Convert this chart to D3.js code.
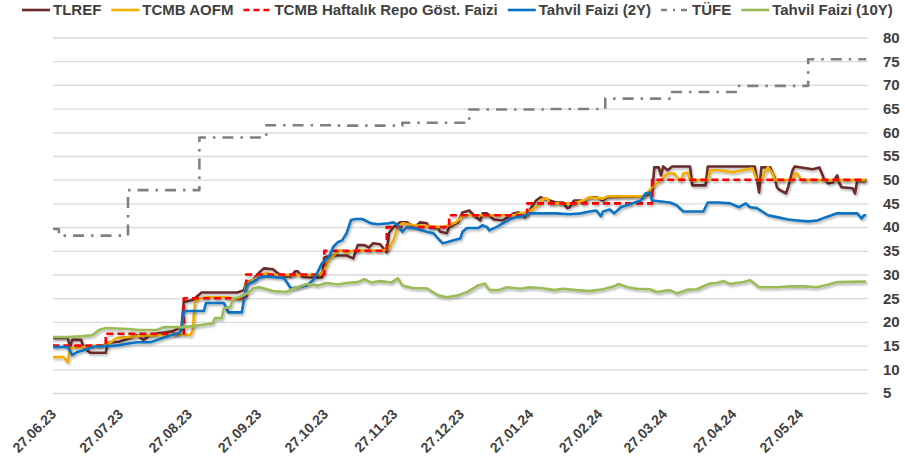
<!DOCTYPE html>
<html>
<head>
<meta charset="utf-8">
<script src="https://cdn.jsdelivr.net/npm/d3@7"></script>
<style>
	body { margin: 0; background: #ffffff; }
	text { font-family: "Liberation Sans", Arial, sans-serif; font-weight: bold; fill: #404040; }
</style>
</head>
<body>
<svg id="chart" width="905" height="462"></svg>
<script>

// ---DATA---//

var xTickLabels = [ "27.06.23", "27.07.23", "27.08.23", "27.09.23", "27.10.23", "27.11.23",
		"27.12.23", "27.01.24", "27.02.24", "27.03.24", "27.04.24", "27.05.24" ];

var yTicks = [ 5, 10, 15, 20, 25, 30, 35, 40, 45, 50, 55, 60, 65, 70, 75, 80 ];

var seriesNames = [ "TLREF", "TCMB AOFM", "TCMB Haftalık Repo Göst. Faizi",
		"Tahvil Faizi (2Y)", "TÜFE", "Tahvil Faizi (10Y)" ];

var tlrefData = [ ["2023-06-30",16.6],["2023-07-07",16.6],["2023-07-08",14.7],["2023-07-09",16.2],
	["2023-07-13",16.2],["2023-07-14",14.7],["2023-07-17",13.5],["2023-07-24",13.5],["2023-07-25",15.6],
	["2023-07-30",15.8],["2023-08-04",16.6],["2023-08-07",17.2],["2023-08-10",16.2],["2023-08-13",17.2],
	["2023-08-17",17.6],["2023-08-23",18.0],["2023-08-27",19.0],["2023-08-28",24.2],["2023-09-01",24.6],
	["2023-09-05",26.2],["2023-09-12",26.2],["2023-09-21",26.2],["2023-09-24",26.7],["2023-09-25",28.4],
	["2023-09-28",28.8],["2023-10-01",30.5],["2023-10-03",31.3],["2023-10-07",31.1],["2023-10-09",30.3],
	["2023-10-12",29.6],["2023-10-15",29.6],["2023-10-17",30.7],["2023-10-18",30.7],["2023-10-20",29.6],
	["2023-10-24",29.4],["2023-10-29",29.4],["2023-10-30",33.6],["2023-11-02",34.0],["2023-11-09",34.0],
	["2023-11-12",33.4],["2023-11-14",36.2],["2023-11-17",36.2],["2023-11-19",35.7],["2023-11-21",36.6],
	["2023-11-24",36.4],["2023-11-27",34.7],["2023-11-28",38.7],["2023-11-30",40.0],["2023-12-03",41.0],
	["2023-12-06",41.0],["2023-12-08",40.4],["2023-12-10",40.2],["2023-12-12",41.0],["2023-12-15",40.8],
	["2023-12-16",40.0],["2023-12-20",39.8],["2023-12-21",39.0],["2023-12-24",38.7],["2023-12-25",40.0],
	["2023-12-29",41.0],["2023-12-31",43.1],["2024-01-03",43.5],["2024-01-05",42.5],["2024-01-08",41.4],
	["2024-01-09",42.9],["2024-01-11",42.9],["2024-01-14",41.6],["2024-01-18",41.4],["2024-01-23",42.9],
	["2024-01-25",43.1],["2024-01-28",42.1],["2024-01-29",42.9],["2024-01-30",43.5],["2024-02-02",45.6],
	["2024-02-04",46.3],["2024-02-08",45.6],["2024-02-11",45.2],["2024-02-14",45.2],["2024-02-16",44.0],
	["2024-02-17",44.2],["2024-02-19",45.6],["2024-02-22",45.6],["2024-02-23",45.2],["2024-02-26",46.3],
	["2024-02-29",46.3],["2024-03-03",45.6],["2024-03-05",46.3],["2024-03-21",46.5],["2024-03-24",47.1],
	["2024-03-25",47.0],["2024-03-26",52.6],["2024-03-28",52.6],["2024-03-29",50.9],["2024-03-30",52.8],
	["2024-04-01",52.0],["2024-04-03",52.8],["2024-04-11",52.8],["2024-04-12",48.8],["2024-04-18",48.8],
	["2024-04-19",52.8],["2024-05-10",52.8],["2024-05-12",47.3],["2024-05-13",52.6],["2024-05-17",52.6],
	["2024-05-19",50.3],["2024-05-20",48.4],["2024-05-21",47.9],["2024-05-24",47.1],["2024-05-25",48.4],
	["2024-05-27",52.0],["2024-05-28",52.8],["2024-06-05",52.2],["2024-06-08",52.6],["2024-06-10",50.3],
	["2024-06-12",49.2],["2024-06-14",49.4],["2024-06-16",50.9],["2024-06-17",49.2],["2024-06-18",48.4],
	["2024-06-23",48.2],["2024-06-24",47.1],["2024-06-25",49.9],["2024-06-28",49.6],["2024-06-29",49.9] ];

var aofmData = [ ["2023-06-30",12.6],["2023-07-05",12.6],["2023-07-07",11.5],["2023-07-08",14.5],
	["2023-07-14",14.7],["2023-07-18",14.9],["2023-07-23",15.1],["2023-07-26",15.7],["2023-07-29",16.6],
	["2023-08-03",16.8],["2023-08-07",17.0],["2023-08-13",17.2],["2023-08-20",17.2],["2023-08-28",17.4],
	["2023-08-31",17.2],["2023-09-01",18.3],["2023-09-02",24.2],["2023-09-03",24.8],["2023-09-07",25.2],
	["2023-09-16",25.2],["2023-09-22",24.8],["2023-09-24",25.2],["2023-09-25",28.2],["2023-09-28",28.8],
	["2023-10-01",29.6],["2023-10-04",30.3],["2023-10-07",29.9],["2023-10-28",29.9],["2023-10-30",30.9],
	["2023-11-01",33.0],["2023-11-03",34.0],["2023-11-06",35.1],["2023-11-09",34.7],["2023-11-14",35.1],
	["2023-11-25",35.0],["2023-11-28",35.5],["2023-11-30",37.2],["2023-12-02",40.0],["2023-12-04",40.8],
	["2023-12-09",40.4],["2023-12-15",40.2],["2023-12-22",40.0],["2023-12-25",40.4],["2023-12-28",41.0],
	["2023-12-30",41.8],["2023-12-31",42.5],["2024-01-23",42.5],["2024-01-26",42.9],["2024-01-29",43.1],
	["2024-02-02",44.2],["2024-02-05",46.0],["2024-02-07",46.0],["2024-02-08",45.0],["2024-02-19",45.0],
	["2024-02-23",45.6],["2024-02-26",46.3],["2024-03-03",46.0],["2024-03-05",46.5],["2024-03-21",46.5],
	["2024-03-23",47.3],["2024-03-25",48.4],["2024-03-27",49.2],["2024-03-29",49.9],["2024-03-31",50.9],
	["2024-04-01",51.3],["2024-04-04",51.3],["2024-04-06",49.9],["2024-04-07",49.9],["2024-04-08",51.3],
	["2024-04-10",51.5],["2024-04-11",49.9],["2024-04-19",49.9],["2024-04-20",52.0],["2024-04-24",52.0],
	["2024-04-30",51.6],["2024-05-07",52.2],["2024-05-09",52.4],["2024-05-11",49.9],["2024-05-13",49.9],
	["2024-05-15",52.0],["2024-05-16",52.6],["2024-05-18",51.3],["2024-05-19",49.9],["2024-05-27",49.9],
	["2024-05-28",51.3],["2024-05-29",51.3],["2024-05-31",49.9],["2024-06-29",49.9] ];

var repoData = [ ["2023-06-30",15],["2023-07-24",17.5],["2023-08-28",25],["2023-09-25",30],
	["2023-10-30",35],["2023-11-27",40],["2023-12-25",42.5],["2024-01-29",45],["2024-03-25",50],
	["2024-06-29",50] ];

var bond2yData = [ ["2023-06-30",14.7],["2023-07-07",14.7],["2023-07-09",13.0],["2023-07-11",13.6],
	["2023-07-14",14.0],["2023-07-18",14.7],["2023-07-23",14.9],["2023-07-27",14.9],["2023-07-30",15.1],
	["2023-08-04",15.5],["2023-08-07",15.7],["2023-08-13",15.7],["2023-08-16",16.2],["2023-08-22",17.2],
	["2023-08-26",17.6],["2023-08-27",18.5],["2023-08-28",22.3],["2023-09-06",22.3],["2023-09-07",24.0],
	["2023-09-15",24.0],["2023-09-17",22.0],["2023-09-23",22.0],["2023-09-25",27.5],["2023-09-27",28.4],
	["2023-09-28",28.4],["2023-10-01",29.4],["2023-10-04",29.6],["2023-10-09",29.4],["2023-10-12",29.2],
	["2023-10-15",27.1],["2023-10-18",27.3],["2023-10-22",27.7],["2023-10-25",28.8],["2023-10-27",30.5],
	["2023-10-29",32.4],["2023-11-01",33.6],["2023-11-03",35.8],["2023-11-05",36.8],["2023-11-07",37.2],
	["2023-11-09",38.7],["2023-11-11",41.5],["2023-11-13",41.7],["2023-11-16",41.7],["2023-11-20",40.8],
	["2023-11-23",40.6],["2023-11-28",40.8],["2023-11-30",41.0],["2023-12-02",40.4],["2023-12-04",39.0],
	["2023-12-06",40.0],["2023-12-09",39.8],["2023-12-15",39.0],["2023-12-18",38.7],["2023-12-20",37.6],
	["2023-12-22",36.6],["2023-12-24",36.8],["2023-12-27",37.2],["2023-12-30",37.6],["2023-12-31",39.0],
	["2024-01-02",39.8],["2024-01-07",39.8],["2024-01-09",40.4],["2024-01-11",40.0],["2024-01-12",39.3],
	["2024-01-16",40.2],["2024-01-18",40.8],["2024-01-21",41.6],["2024-01-24",42.1],["2024-01-27",42.3],
	["2024-01-30",42.9],["2024-02-11",42.9],["2024-02-17",42.7],["2024-02-22",42.9],["2024-02-26",43.3],
	["2024-02-29",43.5],["2024-03-02",42.3],["2024-03-03",43.3],["2024-03-06",43.7],["2024-03-08",42.9],
	["2024-03-11",44.2],["2024-03-15",44.8],["2024-03-20",45.6],["2024-03-22",47.1],["2024-03-24",47.3],
	["2024-03-25",45.6],["2024-03-29",45.4],["2024-04-02",45.2],["2024-04-05",44.6],["2024-04-08",43.3],
	["2024-04-17",43.3],["2024-04-19",45.2],["2024-04-24",45.2],["2024-04-29",45.0],["2024-05-03",44.2],
	["2024-05-06",45.0],["2024-05-08",44.2],["2024-05-11",44.0],["2024-05-16",42.5],["2024-05-20",42.1],
	["2024-05-25",41.6],["2024-05-29",41.4],["2024-06-03",41.2],["2024-06-07",41.4],["2024-06-11",42.1],
	["2024-06-16",42.9],["2024-06-25",42.9],["2024-06-27",41.8],["2024-06-28",42.5],["2024-06-29",42.5] ];

var tufeData = [ ["2023-06-30",39.6],["2023-07-03",38.2],["2023-08-03",47.8],["2023-09-04",58.9],
	["2023-10-04",61.5],["2023-11-03",61.4],["2023-12-04",62.0],["2024-01-03",64.8],["2024-02-05",64.9],
	["2024-03-04",67.1],["2024-04-03",68.5],["2024-05-03",69.8],["2024-06-03",75.4],["2024-06-29",75.4] ];

var bond10yData = [ ["2023-06-30",16.8],["2023-07-07",16.8],["2023-07-14",17.0],["2023-07-18",17.2],
	["2023-07-21",18.3],["2023-07-24",18.7],["2023-08-03",18.5],["2023-08-08",18.3],["2023-08-16",18.3],
	["2023-08-19",18.9],["2023-08-28",18.9],["2023-09-04",19.3],["2023-09-10",19.7],["2023-09-11",20.8],
	["2023-09-14",20.8],["2023-09-15",22.9],["2023-09-18",23.2],["2023-09-19",25.0],["2023-09-22",25.2],
	["2023-09-27",26.5],["2023-09-28",27.1],["2023-10-01",27.3],["2023-10-07",26.5],["2023-10-13",26.3],
	["2023-10-16",27.0],["2023-10-22",28.0],["2023-10-27",27.7],["2023-10-31",28.2],["2023-11-05",27.9],
	["2023-11-09",28.2],["2023-11-14",28.4],["2023-11-17",29.0],["2023-11-20",28.3],["2023-11-24",28.6],
	["2023-11-29",28.3],["2023-12-02",29.2],["2023-12-04",27.7],["2023-12-09",27.1],["2023-12-15",27.1],
	["2023-12-20",25.6],["2023-12-24",25.2],["2023-12-29",25.6],["2024-01-02",26.3],["2024-01-07",27.7],
	["2024-01-10",28.1],["2024-01-12",26.7],["2024-01-16",26.7],["2024-01-20",27.3],["2024-01-26",27.0],
	["2024-01-30",27.3],["2024-02-05",27.1],["2024-02-10",26.7],["2024-02-14",27.0],["2024-02-20",26.7],
	["2024-02-26",26.5],["2024-03-03",26.9],["2024-03-08",27.5],["2024-03-10",28.0],["2024-03-14",27.3],
	["2024-03-18",27.0],["2024-03-24",26.9],["2024-03-27",26.3],["2024-04-02",26.7],["2024-04-05",26.0],
	["2024-04-10",26.8],["2024-04-14",26.9],["2024-04-20",28.1],["2024-04-23",28.2],["2024-04-26",28.6],
	["2024-04-29",28.0],["2024-05-05",28.4],["2024-05-08",28.8],["2024-05-12",27.3],["2024-05-20",27.3],
	["2024-05-26",27.5],["2024-06-01",27.5],["2024-06-07",27.3],["2024-06-13",28.0],["2024-06-16",28.4],
	["2024-06-29",28.5] ];

// ---LAYOUT---//

var plotLeft = 53;
var plotRight = 868;
var plotTop = 37.5;
var plotBottom = 393;

var parseDate = d3.timeParse("%Y-%m-%d");
var parseTick = d3.timeParse("%d.%m.%y");
var formatTick = d3.timeFormat("%d.%m.%y");

var svg = d3.select("#chart");

var x = d3.scaleTime()
	.domain([ parseDate("2023-06-27"), parseDate("2024-06-27") ])
	.range([ 45.5, 861.7 ]);

var y = d3.scaleLinear()
	.domain([ 5, 80 ])
	.range([ plotBottom, plotTop ]);

// series options, built from the arrays above
var series = [
	{ name : seriesNames[0], data : tlrefData, color : "#6B2B2B", dash : null, step : false, shadow : true },
	{ name : seriesNames[1], data : aofmData, color : "#F2AE00", dash : null, step : false, shadow : true },
	{ name : seriesNames[2], data : repoData, color : "#FF0000", dash : "7,4", step : true, shadow : true },
	{ name : seriesNames[3], data : bond2yData, color : "#0A72C2", dash : null, step : false, shadow : true },
	{ name : seriesNames[4], data : tufeData, color : "#808080", dash : "11,7,2.5,7", step : true, shadow : false },
	{ name : seriesNames[5], data : bond10yData, color : "#9BBB59", dash : null, step : false, shadow : true }
];

// ---DEFS---//

var defs = svg.append("defs");

defs.append("clipPath").attr("id", "plotClip")
	.append("rect")
	.attr("x", plotLeft)
	.attr("y", 0)
	.attr("width", plotRight - plotLeft + 2)
	.attr("height", plotBottom + 10);

defs.append("filter").attr("id", "lineShadow")
	.attr("x", "-5%").attr("y", "-5%").attr("width", "110%").attr("height", "120%")
	.append("feDropShadow")
	.attr("dx", 1.2)
	.attr("dy", 1.8)
	.attr("stdDeviation", 1.1)
	.attr("flood-color", "#000000")
	.attr("flood-opacity", 0.3);

// ---GRID & AXES---//

var grid = svg.append("g").attr("class", "grid")
	.attr("transform", "translate(" + plotLeft + ",0)")
	.call(d3.axisRight(y).tickValues(yTicks).tickSize(plotRight - plotLeft).tickFormat(""));

grid.select(".domain").remove();
grid.selectAll("line")
	.attr("stroke", "#D9D9D9")
	.attr("stroke-width", 1.3);

var yAxis = svg.append("g").attr("class", "yAxis")
	.attr("transform", "translate(" + plotRight + ",0)")
	.call(d3.axisRight(y).tickValues(yTicks).tickSize(0).tickPadding(15));

yAxis.select(".domain").remove();
yAxis.selectAll("text")
	.attr("fill", "#404040")
	.style("font-size", "15px");

var xAxis = svg.append("g").attr("class", "xAxis")
	.attr("transform", "translate(0,415)")
	.call(d3.axisBottom(x)
		.tickValues(xTickLabels.map(parseTick))
		.tickSize(0)
		.tickFormat(formatTick));

xAxis.select(".domain").remove();
xAxis.selectAll("text")
	.attr("x", null)
	.attr("y", null)
	.attr("dy", null)
	.attr("text-anchor", "end")
	.attr("transform", "translate(11,0) rotate(-45)")
	.attr("fill", "#404040")
	.style("font-size", "14px");

// ---LINES---//

var linesLayer = svg.append("g").attr("class", "linesLayer")
	.attr("clip-path", "url(#plotClip)");

series.forEach(function(s) {

	var line = d3.line()
		.x(function(d) { return x(parseDate(d[0])); })
		.y(function(d) { return y(d[1]); })
		.curve(s.step ? d3.curveStepAfter : d3.curveLinear);

	linesLayer.append("path")
		.datum(s.data)
		.attr("d", line)
		.attr("fill", "none")
		.attr("stroke", s.color)
		.attr("stroke-width", 2.6)
		.attr("stroke-linejoin", "round")
		.attr("stroke-dasharray", s.dash)
		.attr("filter", s.shadow ? "url(#lineShadow)" : null);

});// END: series loop

// ---LEGEND---//

var legend = svg.append("g").attr("class", "legend");
var legendX = 22;
var legendY = 10;

series.forEach(function(s) {

	legend.append("line")
		.attr("x1", legendX)
		.attr("x2", legendX + 28)
		.attr("y1", legendY)
		.attr("y2", legendY)
		.attr("stroke", s.color)
		.attr("stroke-width", 2.6)
		.attr("stroke-dasharray", s.dash ? (s.step && s.color == "#808080" ? "6,6,2,6" : "6,4") : null);

	var label = legend.append("text")
		.attr("x", legendX + 31)
		.attr("y", legendY)
		.attr("dy", "0.35em")
		.style("font-size", "15px")
		.text(s.name);

	legendX = legendX + 31 + label.node().getComputedTextLength() + 10;

});// END: legend loop

</script>
</body>
</html>
